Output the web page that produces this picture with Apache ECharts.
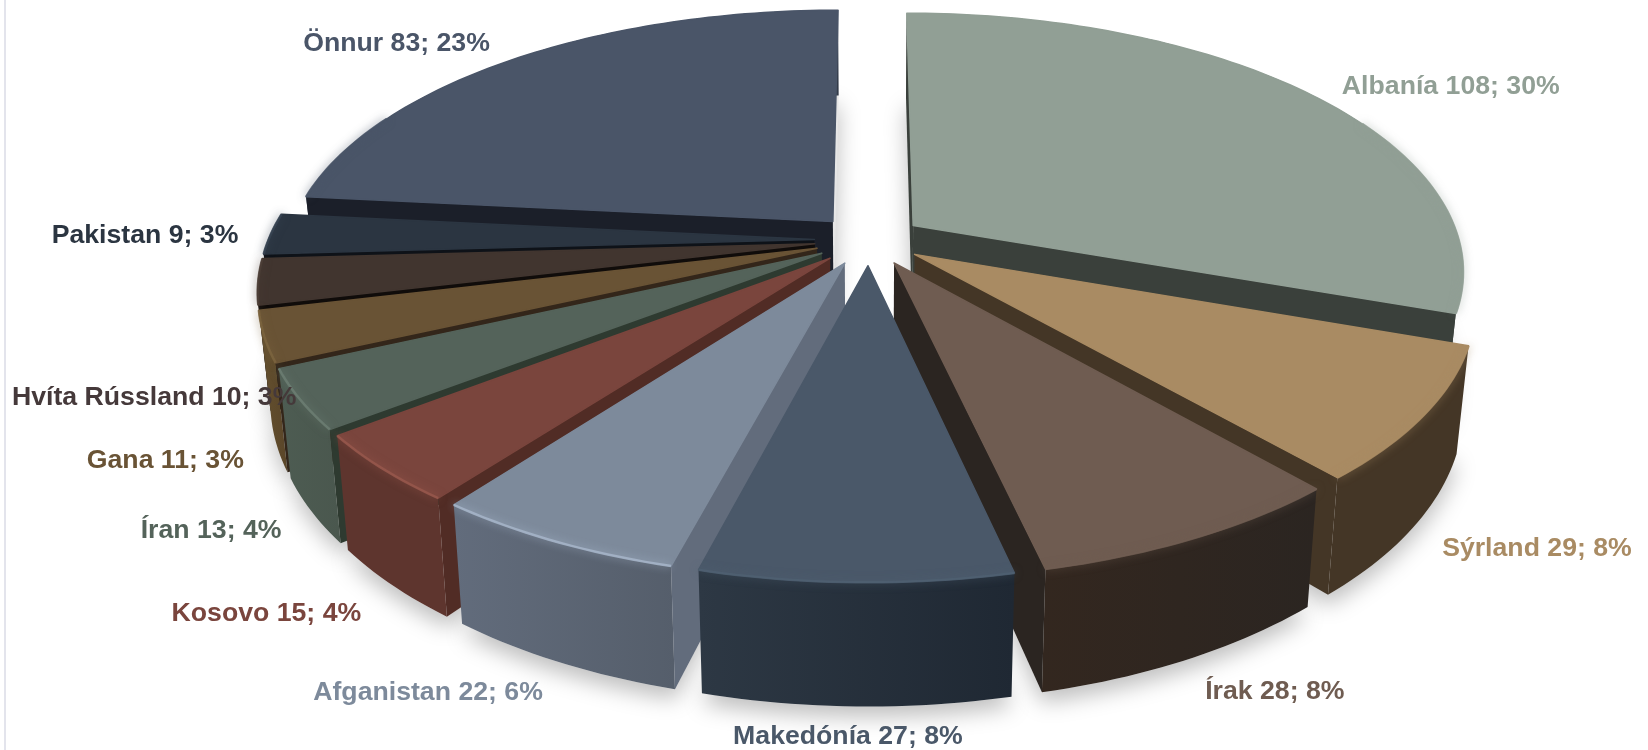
<!DOCTYPE html>
<html><head><meta charset="utf-8">
<style>html,body{margin:0;padding:0;background:#fff}#c{width:1648px;height:750px}</style>
<script src="https://cdn.jsdelivr.net/npm/echarts@6/dist/echarts.min.js"></script>
</head><body><div id="c"></div>
<script>
// --- data ---
const categories = ['Albanía','Sýrland','Írak','Makedónía','Afganistan','Kosovo','Íran','Gana','Hvíta Rússland','Pakistan','Önnur'];
const values     = [108,29,28,27,22,15,13,11,10,9,83];
const percents   = [30,8,8,8,6,4,4,3,3,3,23];
// --- styles ---
const topColors  = ['#919f95','#a98b63','#6f5c51','#4a5869','#7d8a9b','#7a453d','#54635a','#695335','#41352f','#2b3541','#4a5568'];
const sideLeft   = ['#3a403b','#443626','#33271f','#2d3844','#626c7c','#5e352e','#4d5c52','#64502f','#3a2f29','#262f3a','#333b49'];
const sideRight  = ['#3a403b','#443626','#2b2521','#1f2833','#555e6b','#5e352e','#4a574e','#5a4629','#332a25','#222a34','#333b49'];
const cutColors  = ['#3a403b','#443626','#2b2521','#1f2833','#626c7c','#512c25','#2e3a30','#33261a','#100c0a','#0e1218','#1b1f29'];
const rimColors  = ['#919f95','#a98b63','#6f5c51','#4f6072','#a9b8cc','#99594e','#6e8074','#7d6540','#4d4038','#384554','#4a5568'];
const labelColors= ['#919f95','#a98b63','#6f5c51','#4a5869','#7d8a9b','#7a453d','#54635a','#695335','#45393a','#2b3541','#4a5568'];
const drawOrder  = [0,10,9,8,7,1,6,5,2,4,3];
const labelNudge = [[139,-8],[113,134],[80,154],[-8,154],[-126,152],[-116,145],[-89,131],[-99,124],[-104,116],[-126,2],[-119,-15]];
const view = {cx:869, cy:240, R:546, r:253, persp:0.17, explode:0.1, depth:101, taper:0.98};

const total = values.reduce((a,b)=>a+b,0);
const cum = values.reduce((acc,v)=>{acc.push(acc[acc.length-1]+v);return acc;},[0]);
const toAngle = v => echarts.number.linearMap(v,[0,total],[0,Math.PI*2]);
function project(X,Y){
  const p = 1/(1+view.persp*Y);
  return {x:view.cx+view.R*X*p, y:view.cy-view.r*Y*p, p};
}
function bottom(P){
  return [view.cx+(P.x-view.cx)*view.taper, P.y+view.depth*P.p];
}
const xy = P=>[P.x,P.y];

function renderItem(params, api){
  const i = params.dataIndex, v = api.value(0);
  const a0 = toAngle(cum[i]), a1 = toAngle(cum[i]+v), m=(a0+a1)/2;
  const ox = view.explode*Math.sin(m), oy = view.explode*Math.cos(m);
  const apex = project(ox,oy);
  const arc = [], rim = [];
  const n = Math.max(8,Math.round((a1-a0)*50));
  for(let k=0;k<=n;k++){
    const t=a0+(a1-a0)*k/n;
    const P = project(ox+Math.sin(t),oy+Math.cos(t));
    arc.push(P);
    if(Math.cos(t)<0.45) rim.push(xy(P));
  }
  const rank = drawOrder.indexOf(i);
  const base = 10+rank*10;
  const topPts = [xy(apex),...arc.map(xy)];
  const basePts = [bottom(apex),...arc.map(bottom)];
  const sidePts = [...arc.map(xy),...arc.slice().reverse().map(bottom)];
  const grad = new echarts.graphic.LinearGradient(0,0,1,0,[{offset:0,color:sideLeft[i]},{offset:1,color:sideRight[i]}]);
  const face = (P)=>[xy(apex),xy(P),bottom(P),bottom(apex)];
  const children = [
    {type:'polygon',z2:1,shape:{points:basePts},style:{fill:'#e6e6e6',shadowBlur:22,shadowColor:'rgba(0,0,0,0.26)',shadowOffsetY:10}},
    {type:'polygon',z2:base,shape:{points:sidePts},style:{fill:grad}}
  ];
  if(a1<Math.PI) children.push({type:'polygon',z2:base+1,shape:{points:face(arc[n])},style:{fill:cutColors[i]}});
  if(a0>Math.PI||a0===0) children.push({type:'polygon',z2:base+1,shape:{points:face(arc[0])},style:{fill:cutColors[i]}});
  children.push({type:'polygon',z2:base+2,shape:{points:topPts},style:{fill:topColors[i],stroke:topColors[i],lineWidth:1.5,lineJoin:'round'}});
  if(rim.length>1) children.push({type:'polyline',z2:base+3,shape:{points:rim},style:{fill:null,stroke:rimColors[i],lineWidth:2.5,opacity:0.8,shadowBlur:8,shadowColor:rimColors[i]}});
  // label, anchored to the slice's rim
  const L = project(1.1*Math.sin(m),1.1*Math.cos(m));
  children.push({type:'text',z2:500,x:L.x+labelNudge[i][0],y:L.y+labelNudge[i][1],
    style:{text:categories[i]+' '+v+'; '+percents[i]+'%',fill:labelColors[i],
      font:'bold 26.67px "Liberation Sans", Arial, sans-serif',align:'center',verticalAlign:'middle'}});
  return {type:'group',children};
}
const chart = echarts.init(document.getElementById('c'),null,{renderer:'canvas'});
chart.setOption({
  animation:false,
  backgroundColor:'#ffffff',
  graphic:[{type:'rect',left:4,top:0,shape:{width:2,height:750},style:{fill:'#e3e4ec'},silent:true}],
  series:[{type:'custom',coordinateSystem:'none',renderItem,data:values.map(v=>[v]),silent:true,clip:false}]
});
</script></body></html>
